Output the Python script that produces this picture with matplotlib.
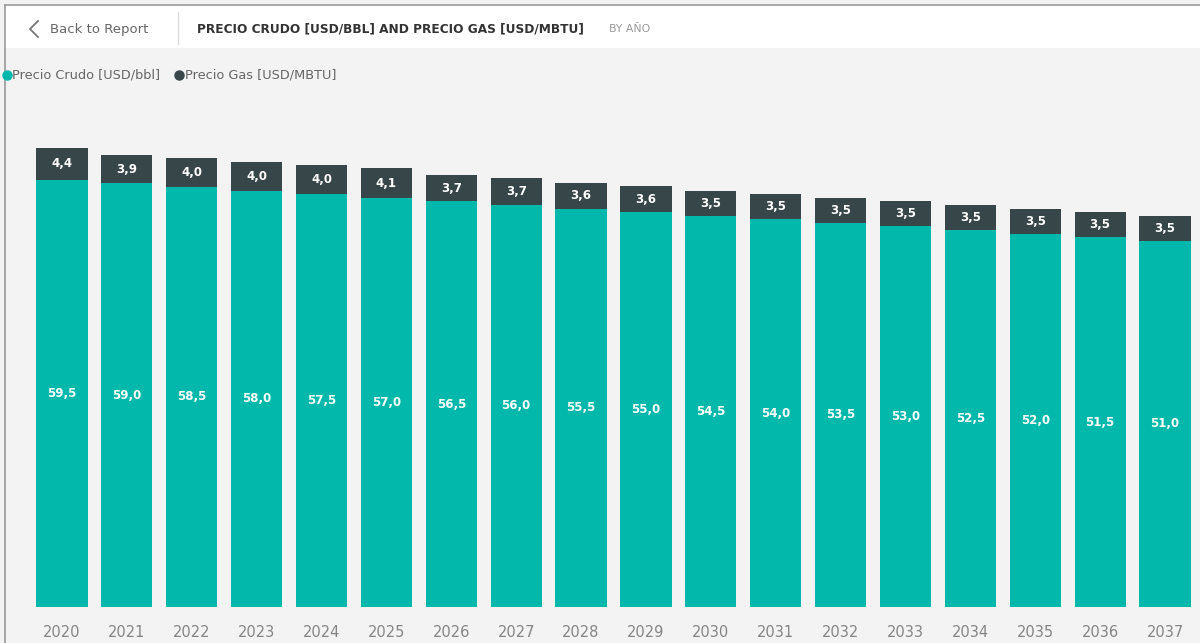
import matplotlib.pyplot as plt
from matplotlib.lines import Line2D
from matplotlib.patches import Rectangle

anios = [str(a) for a in range(2020, 2038)]
precio_crudo = [59.5, 59.0, 58.5, 58.0, 57.5, 57.0, 56.5, 56.0, 55.5,
                55.0, 54.5, 54.0, 53.5, 53.0, 52.5, 52.0, 51.5, 51.0]
precio_gas = [4.4, 3.9, 4.0, 4.0, 4.0, 4.1, 3.7, 3.7, 3.6,
              3.6, 3.5, 3.5, 3.5, 3.5, 3.5, 3.5, 3.5, 3.5]

color_crudo = "#01B8AA"
color_gas = "#374649"

W, H = 1200, 643
fig = plt.figure(figsize=(W / 100, H / 100), dpi=100)
fig.patch.set_facecolor("#f3f3f3")


def px(x, y):
    return x / W, 1 - y / H


# cabecera blanca y bordes
fig.add_artist(Rectangle((5 / W, 1 - 48 / H), 1, 43 / H, transform=fig.transFigure,
                         facecolor="white", edgecolor="none", zorder=0))
fig.add_artist(Line2D([5 / W, 1], [1 - 5 / H, 1 - 5 / H], transform=fig.transFigure,
                      color="#9a9a9a", lw=1.2))
fig.add_artist(Line2D([5 / W, 5 / W], [0, 1 - 5 / H], transform=fig.transFigure,
                      color="#9a9a9a", lw=1.2))
fig.add_artist(Line2D([178 / W, 178 / W], [1 - 44 / H, 1 - 12 / H], transform=fig.transFigure,
                      color="#dddddd", lw=1))

# flecha de volver
fig.add_artist(Line2D([38 / W, 30 / W, 38 / W], [1 - 21 / H, 1 - 29 / H, 1 - 37 / H],
                      transform=fig.transFigure, color="#777777", lw=1.3))
fig.text(*px(50, 30), "Back to Report", fontsize=9.5, color="#666666", va="center", ha="left")
fig.text(*px(197, 29), "PRECIO CRUDO [USD/BBL] AND PRECIO GAS [USD/MBTU]", fontsize=8.7,
         color="#333333", fontweight="bold", va="center", ha="left")
fig.text(*px(609, 29), "BY AÑO", fontsize=7.8, color="#999999", va="center", ha="left")

# leyenda
fig.add_artist(Line2D([7 / W], [1 - 75 / H], transform=fig.transFigure, marker="o",
                      markersize=6.5, color=color_crudo, lw=0))
fig.text(*px(12, 75), "Precio Crudo [USD/bbl]", fontsize=9.3, color="#666666",
         va="center", ha="left")
fig.add_artist(Line2D([179 / W], [1 - 75 / H], transform=fig.transFigure, marker="o",
                      markersize=6.5, color=color_gas, lw=0))
fig.text(*px(185, 75), "Precio Gas [USD/MBTU]", fontsize=9.3, color="#666666",
         va="center", ha="left")

# ejes
x0, x1 = 29.5, 1197.5
ybot, ytop = 607, 100
ax = fig.add_axes([x0 / W, 1 - ybot / H, (x1 - x0) / W, (ybot - ytop) / H])
ax.set_facecolor("none")
escala = 7.18
ax.set_xlim(-0.5, len(anios) - 0.5)
ax.set_ylim(0, (ybot - ytop) / escala)

pos = range(len(anios))
ax.bar(pos, precio_crudo, width=0.79, color=color_crudo)
ax.bar(pos, precio_gas, width=0.79, bottom=precio_crudo, color=color_gas)

for i in pos:
    c, g = precio_crudo[i], precio_gas[i]
    ax.text(i, c / 2, f"{c:.1f}".replace(".", ","), ha="center", va="center",
            color="white", fontsize=8.5, fontweight="bold")
    ax.text(i, c + g / 2, f"{g:.1f}".replace(".", ","), ha="center", va="center",
            color="white", fontsize=8.5, fontweight="bold")

ax.set_xticks(list(pos))
ax.set_xticklabels(anios, fontsize=10.5, color="#858585")
ax.tick_params(axis="x", length=0, pad=13)
ax.set_yticks([])
for s in ax.spines.values():
    s.set_visible(False)

fig.savefig("out.png", dpi=100, facecolor=fig.get_facecolor())
